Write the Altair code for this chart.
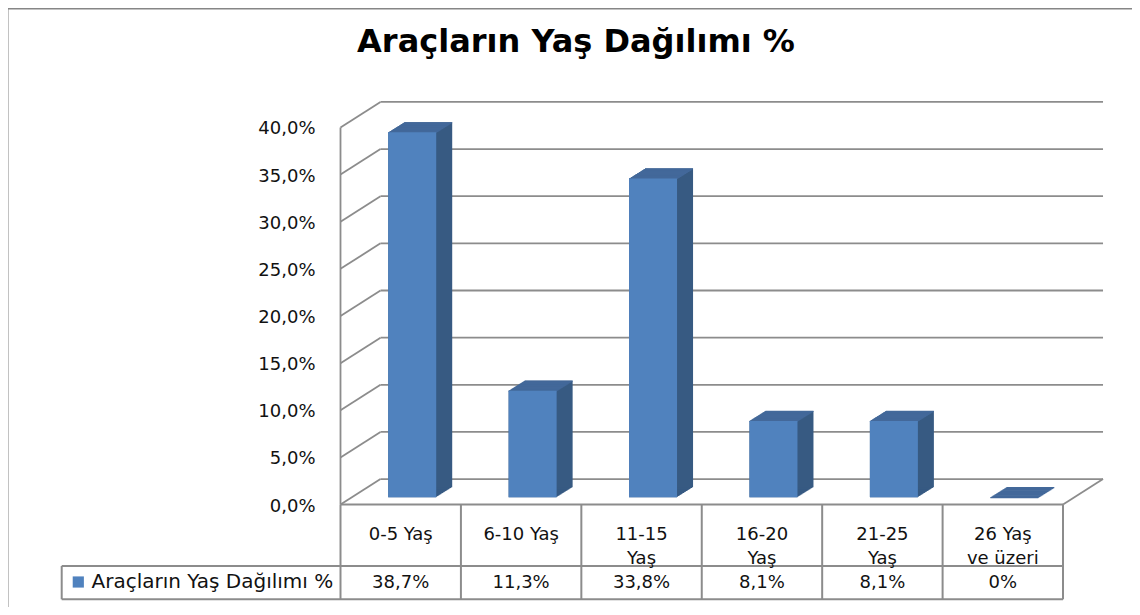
import altair as alt
import pandas as pd

# ---------------- data ----------------
categories = ["0-5 Yaş", "6-10 Yaş", "11-15 Yaş", "16-20 Yaş", "21-25 Yaş", "26 Yaş ve üzeri"]
header_labels = ["0-5 Yaş", "6-10 Yaş", "11-15\nYaş", "16-20\nYaş", "21-25\nYaş", "26 Yaş\nve üzeri"]
values = [38.7, 11.3, 33.8, 8.1, 8.1, 0.0]
value_labels = ["38,7%", "11,3%", "33,8%", "8,1%", "8,1%", "0%"]
y_ticks = [0, 5, 10, 15, 20, 25, 30, 35, 40]
y_tick_labels = ["0,0%", "5,0%", "10,0%", "15,0%", "20,0%", "25,0%", "30,0%", "35,0%", "40,0%"]
series_name = "Araçların Yaş Dağılımı %"
title_text = "Araçların Yaş Dağılımı %"

# ---------------- layout (pixels) ----------------
W, H = 1124, 599
PAGE = 8
FRONT_X0 = 340.5      # page x of the front-left corner of the plot box
CELL = 120.42         # pixels per category on the front plane
FRONT_Y0 = 504.6      # page y of value 0 on the front plane
PPU = 9.43            # pixels per percent
BACK_DX, BACK_DY = 40, -25.5      # depth of the 3D box
BAR_DX, BAR_DY = 11.5, -7.3       # bar front face depth
BAR_DEPTH_X, BAR_DEPTH_Y = 16, -10
BAR_W = 48

FRONT_C = "#5082BE"
SIDE_C = "#375A82"
TOP_C = "#43699A"
GRID_C = "#8C8C8C"
FONT = "DejaVu Sans"
TXT_C = "#111111"

XMIN = -(FRONT_X0 - PAGE) / CELL
XMAX = XMIN + W / CELL
YMAX = (FRONT_Y0 - PAGE) / PPU
YMIN = (FRONT_Y0 - PAGE - H) / PPU


def u_of(px):
    return (px - FRONT_X0) / CELL


def v_of(py):
    return (FRONT_Y0 - py) / PPU


xs = alt.Scale(domain=[XMIN, XMAX], nice=False, zero=False)
ys = alt.Scale(domain=[YMIN, YMAX], nice=False, zero=False)

n = len(categories)
half = (BAR_W / 2) / CELL
bars_df = pd.DataFrame({
    "category": categories,
    "value": values,
    "pos": [i + 0.5 for i in range(n)],
})
bars_df["lo"] = bars_df["pos"] - half
bars_df["hi"] = bars_df["pos"] + half
bars_df["zero"] = 0.0
bars_df["header"] = [h.split("\n") for h in header_labels]
bars_df["vlabel"] = value_labels

grid_df = pd.DataFrame({"v": y_ticks, "label": y_tick_labels, "u0": 0.0, "u1": float(n)})

X = lambda f: alt.X(f, scale=xs, axis=None)
Y = lambda f: alt.Y(f, scale=ys, axis=None)

layers = []

# border (top and left edges of chart area)
layers.append(alt.Chart(pd.DataFrame({"a": [0]})).mark_rule(color="#868686", strokeWidth=2).encode(
    x=alt.value(0), x2=alt.value(W + 10), y=alt.value(0.5)))
layers.append(alt.Chart(pd.DataFrame({"a": [0]})).mark_rule(color="#868686", strokeWidth=2).encode(
    x=alt.value(-0.5), y=alt.value(0), y2=alt.value(H + 10)))

# back wall gridlines
layers.append(alt.Chart(grid_df).mark_rule(
    color=GRID_C, strokeWidth=1.8, xOffset=BACK_DX, x2Offset=BACK_DX, yOffset=BACK_DY, y2Offset=BACK_DY
).encode(x=X("u0:Q"), x2="u1:Q", y=Y("v:Q"), y2="v:Q"))

# left wall diagonals
layers.append(alt.Chart(grid_df).mark_rule(
    color=GRID_C, strokeWidth=1.8, x2Offset=BACK_DX, y2Offset=BACK_DY
).encode(x=X("u0:Q"), x2="u0:Q", y=Y("v:Q"), y2="v:Q"))

# front left axis line
axis_df = pd.DataFrame({"u": [0.0], "lo": [min(y_ticks)], "hi": [max(y_ticks)]})
layers.append(alt.Chart(axis_df).mark_rule(color=GRID_C, strokeWidth=1.8).encode(
    x=X("u:Q"), y=Y("lo:Q"), y2="hi:Q"))

# floor right edge
floor_df = pd.DataFrame({"u": [float(n)], "v": [0.0]})
layers.append(alt.Chart(floor_df).mark_rule(
    color=GRID_C, strokeWidth=1.8, x2Offset=BACK_DX, y2Offset=BACK_DY
).encode(x=X("u:Q"), x2="u:Q", y=Y("v:Q"), y2="v:Q"))

# 3D bars: side extrusion
steps = list(range(0, BAR_DEPTH_X + 1))
for k in steps:
    dx = BAR_DX + k
    dy = BAR_DY + k * BAR_DEPTH_Y / BAR_DEPTH_X
    layers.append(alt.Chart(bars_df).mark_rect(
        color=SIDE_C, xOffset=dx, x2Offset=dx, yOffset=dy, y2Offset=dy
    ).encode(x=X("lo:Q"), x2="hi:Q", y=Y("value:Q"), y2="zero:Q"))
# top face
for k in steps:
    dx = BAR_DX + k
    dy = BAR_DY + k * BAR_DEPTH_Y / BAR_DEPTH_X
    layers.append(alt.Chart(bars_df).mark_rect(
        color=TOP_C, xOffset=dx, x2Offset=dx, yOffset=dy - 0.2, y2Offset=dy + 1.0
    ).encode(x=X("lo:Q"), x2="hi:Q", y=Y("value:Q"), y2="value:Q"))
# front face
layers.append(alt.Chart(bars_df).mark_rect(
    color=FRONT_C, xOffset=BAR_DX, x2Offset=BAR_DX, yOffset=BAR_DY, y2Offset=BAR_DY
).encode(x=X("lo:Q"), x2="hi:Q", y=Y("value:Q"), y2="zero:Q",
         tooltip=["category:N", "value:Q"]))

# y tick labels
layers.append(alt.Chart(grid_df).mark_text(
    align="right", baseline="middle", dx=-25, dy=2, font=FONT, fontSize=18, color=TXT_C
).encode(x=X("u0:Q"), y=Y("v:Q"), text="label:N"))

# data table lines
t_left = u_of(61.7)
row_v = v_of(566)
bot_v = v_of(599.3)
hlines = pd.DataFrame({
    "a": [0.0, t_left, t_left],
    "b": [float(n), float(n), float(n)],
    "v": [0.0, row_v, bot_v],
})
layers.append(alt.Chart(hlines).mark_rule(color=GRID_C, strokeWidth=2).encode(
    x=X("a:Q"), x2="b:Q", y=Y("v:Q")))
vlines = pd.DataFrame({
    "u": [float(i) for i in range(n + 1)] + [t_left],
    "a": [0.0] * (n + 1) + [row_v],
    "b": [bot_v] * (n + 2),
})
layers.append(alt.Chart(vlines).mark_rule(color=GRID_C, strokeWidth=2).encode(
    x=X("u:Q"), y=Y("a:Q"), y2="b:Q"))

# header labels
bars_df["hv"] = v_of(539.5)
bars_df["vv"] = v_of(583)
layers.append(alt.Chart(bars_df).mark_text(
    align="center", baseline="alphabetic", font=FONT, fontSize=18, lineHeight=24, color=TXT_C
).encode(x=X("pos:Q"), y=Y("hv:Q"), text="header"))
# value labels
layers.append(alt.Chart(bars_df).mark_text(
    align="center", baseline="middle", font=FONT, fontSize=18, color=TXT_C
).encode(x=X("pos:Q"), y=Y("vv:Q"), text="vlabel:N"))

# legend key + series name
leg_df = pd.DataFrame({"u": [u_of(78.3)], "ut": [u_of(91.5)], "v": [v_of(582)], "name": [series_name]})
layers.append(alt.Chart(leg_df).mark_point(
    shape="square", filled=True, size=125, color=FRONT_C, opacity=1
).encode(x=X("u:Q"), y=Y("v:Q")))
layers.append(alt.Chart(leg_df).mark_text(
    align="left", baseline="middle", font=FONT, fontSize=20, color=TXT_C
).encode(x=X("ut:Q"), y=Y("v:Q"), text="name:N"))

# title
title_df = pd.DataFrame({"t": [title_text]})
layers.append(alt.Chart(title_df).mark_text(
    align="center", baseline="alphabetic", font=FONT, fontSize=32, fontWeight="bold", color="#000000"
).encode(x=alt.value(576 - PAGE), y=alt.value(52 - PAGE), text="t:N"))

chart = alt.layer(*layers).properties(
    width=W, height=H, padding=0, autosize="none", background="white"
).configure_view(stroke=None)

chart.save("out.html", embed_options={"renderer": "svg", "actions": False})
